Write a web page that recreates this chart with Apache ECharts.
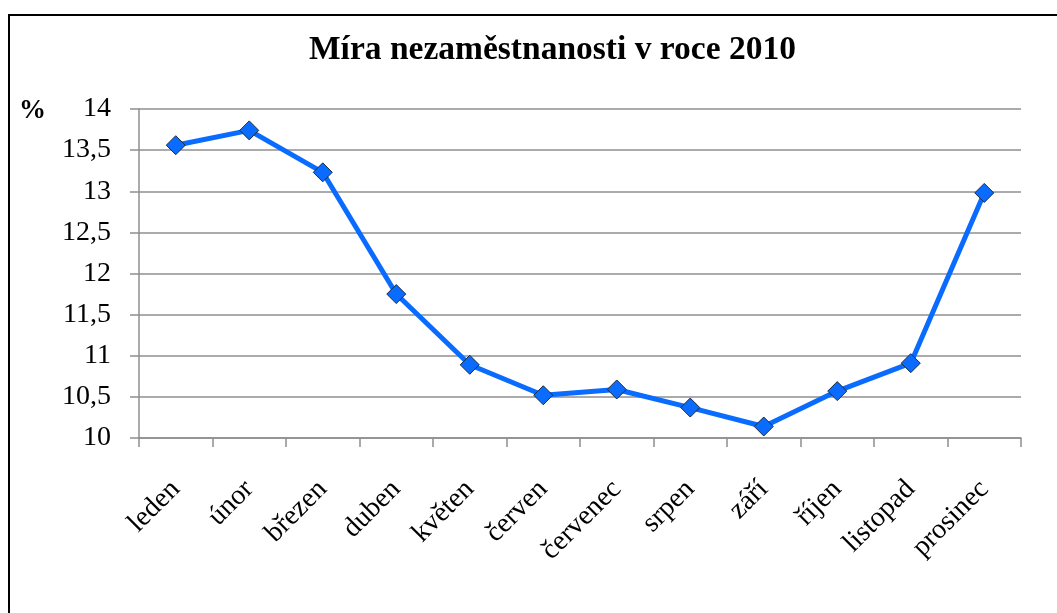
<!DOCTYPE html>
<html>
<head>
<meta charset="utf-8">
<script src="https://cdn.jsdelivr.net/npm/echarts@6/dist/echarts.min.js"></script>
<style>
html,body{margin:0;padding:0;background:#fff;overflow:hidden}
#frame{position:absolute;left:8px;top:14px;width:1100px;height:700px;border:2px solid #000;box-sizing:border-box}
#main{position:absolute;left:0;top:0;width:1057px;height:613px}
</style>
</head>
<body>
<div id="frame"></div>
<div id="main"></div>
<script>
// mesice a hodnoty
var months=['leden','únor','březen','duben','květen','červen','červenec','srpen','září','říjen','listopad','prosinec']
var rates=[13.56,13.74,13.23,11.75,10.89,10.52,10.59,10.37,10.14,10.57,10.91,12.98]
var yTicks=[10,14,0.5]

var chartDom=document.getElementById('main')
var myChart=echarts.init(chartDom)
var serif='"Liberation Serif","DejaVu Serif",serif'
var option={
    animation:false,
    title:{
        text:'Míra nezaměstnanosti v roce 2010',
        left:304,
        top:28,
        textStyle:{fontFamily:serif,fontSize:33.5,fontWeight:'bold',color:'#000'}
    },
    grid:{left:139,right:36,top:109,bottom:175},
    xAxis:{
        type:'category',
        data:months,
        boundaryGap:true,
        axisLine:{lineStyle:{color:'#8f8f8f',width:1.5}},
        axisTick:{show:true,length:9,alignWithLabel:false,lineStyle:{color:'#8f8f8f',width:1.5}},
        axisLabel:{rotate:45,margin:47,fontFamily:serif,fontSize:28,color:'#000',interval:0}
    },
    yAxis:{
        type:'value',
        min:yTicks[0],
        max:yTicks[1],
        interval:yTicks[2],
        name:'%',
        nameLocation:'end',
        nameGap:0,
        nameTextStyle:{fontFamily:serif,fontSize:27,fontWeight:'bold',color:'#000',align:'left',padding:[0,0,-16,-120]},
        axisLine:{show:true,lineStyle:{color:'#8f8f8f',width:1.5}},
        axisTick:{show:true,length:9,lineStyle:{color:'#8f8f8f',width:1.5}},
        splitLine:{lineStyle:{color:'#8f8f8f',width:1.5}},
        axisLabel:{
            margin:28,fontFamily:serif,fontSize:28,color:'#000',
            formatter:function(v){return String(v).replace('.',',')}
        }
    },
    series:[{
        type:'line',
        data:rates,
        lineStyle:{color:'#0a6cff',width:5},
        symbol:'diamond',
        symbolSize:19,
        itemStyle:{color:'#0a6cff',borderColor:'#1a2a40',borderWidth:1}
    }]
}
option && myChart.setOption(option)
</script>
</body>
</html>
